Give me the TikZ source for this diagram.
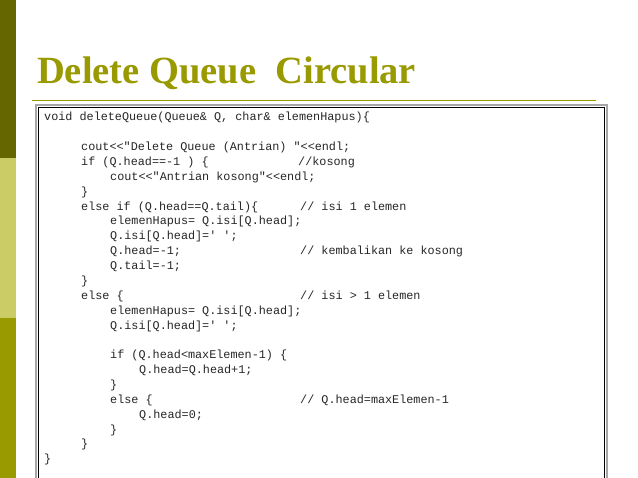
\documentclass[tikz,border=0pt]{standalone}
\usepackage{fontspec}
\setmainfont{Liberation Serif}
\setmonofont{Liberation Mono}
\definecolor{olivedark}{HTML}{666600}
\definecolor{olivelight}{HTML}{CCCC66}
\definecolor{olivemid}{HTML}{999900}
\definecolor{titlecol}{HTML}{999900}
\begin{document}
\begin{tikzpicture}[x=1pt,y=-1pt,
  code/.style={anchor=base west,inner sep=0pt,font=\ttfamily\fontsize{11.8}{14}\selectfont,text=black!85}]
\useasboundingbox (0,0) rectangle (638,478);
\fill[white] (0,0) rectangle (638,478);
\fill[olivedark] (0,0) rectangle (16,158);
\fill[olivelight] (0,158) rectangle (16,318);
\fill[olivemid] (0,318) rectangle (16,478);
\node[anchor=base west,inner sep=0pt,font=\bfseries\fontsize{38.5}{40}\selectfont,text=titlecol] (title) at (37,84) {Delete Queue\ \ Circular};
\draw[olivemid,line width=1.5] (32,100.5) -- (596,100.5);
\draw[gray!70,line width=1.5] (36,105) rectangle (607,490);
\draw[black,line width=1.2] (38.5,107.5) rectangle (604.5,490);
\def\L#1#2#3{\node[code] at (#1,#2+4) {#3};}
\L{44}{117}{void deleteQueue(Queue\& Q, char\& elemenHapus)\{}
\L{81}{147}{cout<{}<"Delete Queue (Antrian) "<{}<endl;}
\L{81}{162}{if (Q.head==-1 ) \{}
\L{298}{162}{//kosong}
\L{110}{177}{cout<{}<"Antrian kosong"<{}<endl;}
\L{81}{192}{\}}
\L{81}{207}{else if (Q.head==Q.tail)\{}
\L{300}{207}{// isi 1 elemen}
\L{110}{221}{elemenHapus= Q.isi[Q.head];}
\L{110}{236}{Q.isi[Q.head]=' ';}
\L{110}{251}{Q.head=-1;}
\L{300}{251}{// kembalikan ke kosong}
\L{110}{266}{Q.tail=-1;}
\L{81}{281}{\}}
\L{81}{296}{else \{}
\L{300}{296}{// isi > 1 elemen}
\L{110}{311}{elemenHapus= Q.isi[Q.head];}
\L{110}{326}{Q.isi[Q.head]=' ';}
\L{110}{355}{if (Q.head<maxElemen-1) \{}
\L{139}{370}{Q.head=Q.head+1;}
\L{110}{385}{\}}
\L{110}{400}{else \{}
\L{300}{400}{// Q.head=maxElemen-1}
\L{139}{415}{Q.head=0;}
\L{110}{430}{\}}
\L{81}{444}{\}}
\L{44}{459}{\}}
\end{tikzpicture}
\end{document}
